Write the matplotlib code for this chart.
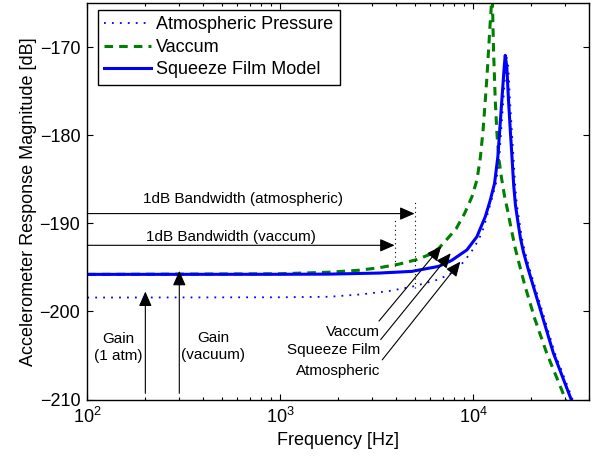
import matplotlib
matplotlib.use("Agg")
import matplotlib.pyplot as plt

plt.rcParams["font.family"] = ["Liberation Sans", "DejaVu Sans"]
plt.rcParams["mathtext.fontset"] = "custom"
plt.rcParams["mathtext.rm"] = "Liberation Sans"
plt.rcParams["mathtext.it"] = "Liberation Sans:italic"

# ---- data ----
atm_freq = [100, 1000, 1796, 2670, 3667, 4839, 6393, 7489, 8238, 8953,
            9847, 10703, 11357, 11912, 12569, 13180, 13709, 13987, 14376, 14791,
            14934, 15257, 15567, 15943, 16231, 16559, 16914, 17429, 17956, 18614,
            19752, 20960, 23612, 26600, 32430, 40000]
atm_db = [-198.43, -198.4, -198.34, -198.06, -197.69, -197.2, -196.48, -195.86, -195.18, -194.38,
          -193.19, -191.89, -190.53, -188.95, -187.13, -185.47, -182.46, -179.77, -176.04, -172.26,
          -171.17, -172.26, -176.04, -179.77, -182.46, -185.66, -187.93, -189.85, -191.66, -193.25,
          -195.29, -197.18, -200.95, -204.72, -209.64, -215.0]

vac_freq = [100, 1000, 1796, 2566, 3256, 4130, 5039, 5902, 6647, 7202,
            8169, 9060, 9881, 10489, 10920, 11290, 11591, 11841, 12052, 12268,
            12446, 12569, 12640, 12794, 13056, 13340, 13658, 14073, 14584, 15113,
            15659, 16559, 17429, 18659, 21010, 24124, 28840, 33140, 40000]
vac_db = [-195.8, -195.73, -195.55, -195.33, -195.05, -194.64, -194.16, -193.59, -192.85, -192.0,
          -190.65, -188.87, -186.99, -185.1, -182.6, -179.43, -176.04, -173.2, -170.37, -167.54,
          -165.47, -150.0, -165.47, -170.37, -176.04, -180.0, -182.83, -184.87, -186.91, -188.49,
          -190.19, -192.8, -194.72, -197.18, -200.95, -204.72, -208.88, -212.28, -217.0]

sf_freq = [100, 1000, 1796, 3256, 4822, 6647, 7762, 9311, 10489, 11591,
           12268, 12950, 13467, 13740, 14124, 14533, 14707, 14991, 15298, 15659,
           15943, 16270, 16617, 17119, 17636, 18281, 19405, 20596, 23199, 26132,
           31870, 40000]
sf_db = [-195.8, -195.79, -195.77, -195.65, -195.46, -194.89, -194.21, -193.02, -191.52, -189.25,
         -187.47, -185.47, -182.46, -179.77, -176.04, -172.26, -170.94, -172.26, -176.04, -179.77,
         -182.46, -185.66, -187.93, -189.85, -191.66, -193.25, -195.29, -197.18, -200.95, -204.72,
         -209.64, -215.3]

labels = ["Atmospheric Pressure", "Vaccum", "Squeeze Film Model"]

# 1 dB bandwidth markers: (frequency, curve level, top of dotted guide, arrow level)
bw_atm = (4980, -197.4, -187.55, -188.9)
bw_vac = (3925, -194.8, -189.6, -192.5)

# gain arrows: (frequency, tip level)
gain_atm = (200, -197.75)
gain_vac = (300, -195.4)

# curve pointers: label, text anchor, tail, tip
pointers = [
    ("Vaccum",       (3295, -202.3), (3256, -201.1), (6850, -192.6)),
    ("Squeeze Film", (3295, -204.4), (3323, -203.2), (7670, -193.4)),
    ("Atmospheric",  (3295, -206.8), (3386, -205.5), (8606, -194.35)),
]

# ---- figure ----
fig = plt.figure(figsize=(5.98, 4.59), dpi=100)
ax = fig.add_axes([87.3 / 598, 59.5 / 459, 501.7 / 598, 396.5 / 459])

ax.semilogx(atm_freq, atm_db, color="blue", lw=1.3, ls=(0, (1, 3.4)), label=labels[0])
ax.semilogx(vac_freq, vac_db, color="#008000", lw=2.2, ls=(0, (2.8, 2.0)), label=labels[1])
ax.semilogx(sf_freq, sf_db, color="blue", lw=2.2, label=labels[2])

ax.set_xlim(100, 40000)
ax.set_ylim(-210, -165)
ax.set_yticks([-210, -200, -190, -180, -170])

arrow_kw = dict(arrowstyle="-|>,head_length=0.5,head_width=0.22", color="black",
                lw=0.8, shrinkA=0, shrinkB=0, mutation_scale=18)

# bandwidth arrows, guides and labels
for (f, lvl, top, y), txt, (tx, ty) in [
        (bw_atm, "1dB Bandwidth (atmospheric)", (640, -187.25)),
        (bw_vac, "1dB Bandwidth (vaccum)", (557, -191.6))]:
    ax.annotate("", xy=(f, y), xytext=(100, y), arrowprops=arrow_kw)
    ax.plot([f, f], [lvl, top], color="black", lw=0.8, ls=(0, (1, 3)))
    ax.text(tx, ty, txt, fontsize=11, ha="center", va="center")

# gain arrows
for (f, tip) in [gain_atm, gain_vac]:
    ax.annotate("", xy=(f, tip), xytext=(f, -209.3), arrowprops=arrow_kw)
ax.text(144, -204.1, "Gain\n(1 atm)", fontsize=11, ha="center", va="center",
        linespacing=1.3)
ax.text(448, -204.0, "Gain\n(vacuum)", fontsize=11, ha="center", va="center",
        linespacing=1.3)

# pointers to the curves
for txt, (tx, ty), tail, tip in pointers:
    ax.annotate("", xy=tip, xytext=tail, arrowprops=arrow_kw)
    ax.text(tx, ty, txt, fontsize=11, ha="right", va="center")

ax.set_xlabel("Frequency [Hz]", fontsize=13, labelpad=4)
ax.set_ylabel("Accelerometer Response Magnitude [dB]", fontsize=13, labelpad=2)

ax.tick_params(which="both", direction="in", top=True, right=True, labelsize=13)
ax.tick_params(which="major", length=4, width=0.8, pad=5)
ax.tick_params(which="minor", length=2.5, width=0.8)
ax.tick_params(axis="y", which="minor", left=False, right=False)
for s in ax.spines.values():
    s.set_linewidth(1.0)

leg = ax.legend(loc="upper left", bbox_to_anchor=(0.0207, 0.982), borderaxespad=0,
                fontsize=13, fancybox=False, framealpha=1, edgecolor="black",
                handlelength=2.6, handletextpad=0.3, labelspacing=0.3,
                borderpad=0.35)
leg.get_frame().set_linewidth(1.0)

fig.savefig("out.png", dpi=100)
